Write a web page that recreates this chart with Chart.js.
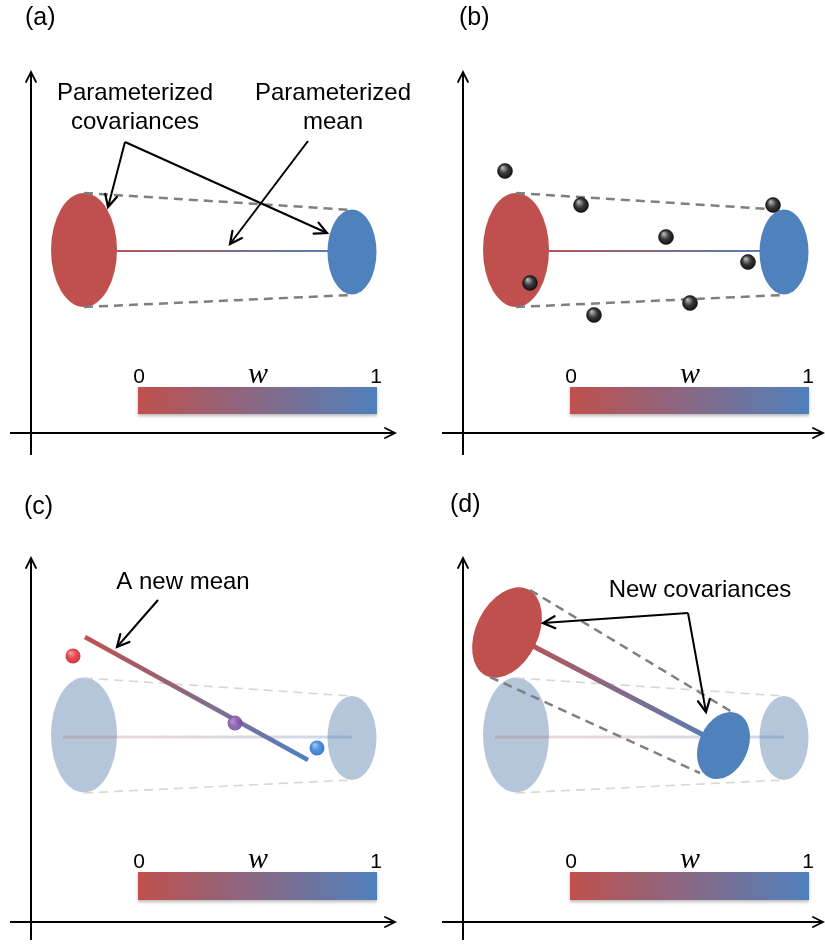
<!DOCTYPE html>
<html>
<head>
<meta charset="utf-8">
<script src="https://cdn.jsdelivr.net/npm/chart.js@4/dist/chart.umd.min.js"></script>
<style>
  html, body { margin: 0; padding: 0; background: #ffffff; }
  #wrap { position: relative; width: 825px; height: 945px; overflow: hidden; }
  #wrap canvas { position: absolute; left: 0; top: 0; }
</style>
</head>
<body>
<div id="wrap">
  <canvas id="pa" width="825" height="945"></canvas>
  <canvas id="pb" width="825" height="945"></canvas>
  <canvas id="pc" width="825" height="945"></canvas>
  <canvas id="pd" width="825" height="945"></canvas>
</div>
<script>
// ---------------------------------------------------------------------------
// Diagram values, in units where the two axes cross at (0, 0) and y points up.
// ---------------------------------------------------------------------------
const panelLabels = ['(a)', '(b)', '(c)', '(d)'];
const panelLabelPos = [[-6, 408], [-4, 408], [-7, 408], [-13, 410]];

// Axis extents: x axis runs along y = 0, y axis along x = 0
const xAxisExtent = [[-21, 364], [-21, 360], [-21, 364], [-21, 360]];
const yAxisExtent = [[-22, 361], [-22, 361], [-18, 364], [-18, 364]];

// Colour bar for the interpolation weight w in [0, 1]
const colorbarSpan = [107, 346];
const colorbarRows = [[19, 46], [19, 46], [22, 50], [22, 50]];
const colorbarTickValues = ['0', '1'];
const colorbarTickY = [50, 50, 54, 54];
const colorbarSymbol = 'w';

// Gaussian components: [cx, cy, rx, ry, angleDeg]
const redCov = [53, 183, 33, 57, 0];
const blueCov = [321, 181, 24.5, 42.5, 0];
const fadedRedCov = [53, 187, 33, 57.5, 0];
const fadedBlueCov = [321, 184, 24.5, 42, 0];
const newRedCov = [44, 289.5, 48, 31, 64];
const newBlueCov = [260.5, 176.5, 35, 24.5, 66];

// Mean paths and covariance envelopes: [[x0, y0], [x1, y1]]
const meanLine = [[53, 182], [321, 182]];
const envelopeTop = [[53, 240], [321, 223]];
const envelopeBottom = [[53, 126], [321, 138]];
const fadedMeanLine = [[32, 185], [321, 185]];
const fadedEnvelopeTop = [[53, 244], [321, 226]];
const fadedEnvelopeBottom = [[53, 129], [321, 142]];
const newMeanLine = [[54, 285], [277, 162]];
const newCovMeanLine = [[44, 289.5], [260.5, 176.5]];
const newEnvelopeTop = [[67, 332], [274, 207]];
const newEnvelopeBottom = [[27, 245], [237, 149]];

// Observed samples in (b)
const samples = [[42, 262], [118, 228], [310, 228], [203, 196], [285, 171], [67, 150], [227, 130], [131, 118]];

// Samples along the new mean in (c): w = 0, 0.5, 1
const newMeanSamples = [[42, 266], [204, 199], [286, 174]];

// Callout texts: [text, x, baselineY] and arrows: [[fromX, fromY], [tipX, tipY]]
const calloutTextA = [['Parameterized', 104, 333], ['covariances', 104, 304], ['Parameterized', 302, 333], ['mean', 302, 304]];
const calloutArrowsA = [[[94, 291], [77, 226]], [[94, 291], [296, 200]], [[277, 292], [199, 189]]];
const calloutTextC = [['A new mean', 152, 333]];
const calloutArrowsC = [[[127, 322], [86, 275]]];
const calloutTextD = [['New covariances', 237, 325]];
const calloutArrowsD = [[[225, 309], [80, 299]], [[225, 309], [243, 210]]];

// ---------------------------------------------------------------------------
// Styling and layout
// ---------------------------------------------------------------------------
const RED = '#c0504d';
const BLUE = '#4f81bd';
const FADED = '#b6c6da';
const SANS = '"Liberation Sans", Arial, Helvetica, sans-serif';
const W = 825, H = 945;
// pixel where the axes cross in each panel
const origins = [[31, 433], [463, 433], [31, 922], [463, 922]];

function toPx(chart, x, y) {
  return [chart.scales.x.getPixelForValue(x), chart.scales.y.getPixelForValue(y)];
}

function pts(list) {
  return list.map(([x, y]) => ({ x, y }));
}

function gradientStroke(points, from, to) {
  return (c) => {
    const chart = c.chart;
    if (!chart.chartArea || !chart.scales.x) return from;
    const [x1, y1] = toPx(chart, points[0][0], points[0][1]);
    const [x2, y2] = toPx(chart, points[1][0], points[1][1]);
    const g = chart.ctx.createLinearGradient(x1, y1, x2, y2);
    g.addColorStop(0, from);
    g.addColorStop(1, to);
    return g;
  };
}

function lineDS(points, style) {
  return Object.assign({
    data: pts(points),
    showLine: true,
    pointRadius: 0,
    pointHoverRadius: 0,
    borderWidth: 2,
    borderColor: '#000',
    tension: 0,
    clip: false
  }, style);
}

function axesDS(i) {
  return [
    lineDS([[xAxisExtent[i][0], 0], [xAxisExtent[i][1], 0]], { borderWidth: 2, arrowHead: { len: 10, half: 5, width: 1.8 } }),
    lineDS([[0, yAxisExtent[i][0]], [0, yAxisExtent[i][1]]], { borderWidth: 2, arrowHead: { len: 10, half: 5, width: 1.8 } })
  ];
}

function calloutDS(arrows) {
  return arrows.map(a => lineDS(a, { borderWidth: 2, arrowHead: { len: 12, half: 6, width: 2.2 } }));
}

function sphereFill(bases, lights, darks) {
  return (c) => {
    const i = c.dataIndex || 0;
    const base = bases[i % bases.length];
    if (c.type !== 'data' || !c.chart.chartArea) return base;
    const [x, y] = toPx(c.chart, c.raw.x, c.raw.y);
    const g = c.chart.ctx.createRadialGradient(x - 2.5, y - 3.5, 0.5, x, y, 8);
    g.addColorStop(0, lights[i % lights.length]);
    g.addColorStop(0.5, base);
    g.addColorStop(1, darks[i % darks.length]);
    return g;
  };
}

function drawEllipse(chart, e, color) {
  const ctx = chart.ctx;
  const [cx, cy] = toPx(chart, e[0], e[1]);
  const rx = Math.abs(chart.scales.x.getPixelForValue(e[2]) - chart.scales.x.getPixelForValue(0));
  const ry = Math.abs(chart.scales.y.getPixelForValue(e[3]) - chart.scales.y.getPixelForValue(0));
  ctx.save();
  ctx.beginPath();
  ctx.ellipse(cx, cy, rx, ry, -(e[4] || 0) * Math.PI / 180, 0, Math.PI * 2);
  ctx.fillStyle = color;
  ctx.fill();
  ctx.restore();
}

const diagramPlugin = {
  id: 'diagram',
  beforeDatasetsDraw(chart, args, opts) {
    (opts.under || []).forEach(item => drawEllipse(chart, item.e, item.color));
  },
  afterDatasetDraw(chart, args, opts) {
    const ds = chart.data.datasets[args.index];
    if (ds.ellipsesAbove) {
      (opts.over || []).forEach(item => drawEllipse(chart, item.e, item.color));
    }
  },
  afterDatasetsDraw(chart, args, opts) {
    const ctx = chart.ctx;
    // arrowheads at the last point of flagged line datasets
    chart.data.datasets.forEach((ds, i) => {
      if (!ds.arrowHead) return;
      const el = chart.getDatasetMeta(i).data;
      const n = el.length;
      const tail = el[n - 2], tip = el[n - 1];
      const ang = Math.atan2(tip.y - tail.y, tip.x - tail.x);
      const h = ds.arrowHead;
      const phi = Math.atan2(h.half, h.len);
      const L = Math.hypot(h.half, h.len);
      ctx.save();
      ctx.strokeStyle = ds.borderColor || '#000';
      ctx.lineWidth = h.width;
      ctx.lineCap = 'round';
      ctx.lineJoin = 'miter';
      ctx.beginPath();
      ctx.moveTo(tip.x - L * Math.cos(ang - phi), tip.y - L * Math.sin(ang - phi));
      ctx.lineTo(tip.x, tip.y);
      ctx.lineTo(tip.x - L * Math.cos(ang + phi), tip.y - L * Math.sin(ang + phi));
      ctx.stroke();
      ctx.restore();
    });

    // colour bar for w
    const cb = opts.colorbar;
    if (cb) {
      const [x0, yTop] = toPx(chart, colorbarSpan[0], cb.rows[1]);
      const [x1, yBot] = toPx(chart, colorbarSpan[1], cb.rows[0]);
      ctx.save();
      const g = ctx.createLinearGradient(x0, 0, x1, 0);
      g.addColorStop(0, RED);
      g.addColorStop(1, BLUE);
      ctx.shadowColor = 'rgba(0,0,0,0.28)';
      ctx.shadowBlur = 3;
      ctx.shadowOffsetY = 2;
      ctx.fillStyle = g;
      ctx.fillRect(x0, yTop, x1 - x0, yBot - yTop);
      ctx.restore();

      ctx.save();
      ctx.fillStyle = '#000';
      ctx.textBaseline = 'alphabetic';
      ctx.textAlign = 'center';
      ctx.font = '21px ' + SANS;
      const [t0x, ty] = toPx(chart, colorbarSpan[0] + 1, cb.tickY);
      const [t1x] = toPx(chart, colorbarSpan[1] - 1, cb.tickY);
      ctx.fillText(colorbarTickValues[0], t0x, ty);
      ctx.fillText(colorbarTickValues[1], t1x, ty);
      ctx.font = 'italic 30px "Liberation Serif", "DejaVu Serif", serif';
      const [wx] = toPx(chart, (colorbarSpan[0] + colorbarSpan[1]) / 2 + 0.5, cb.tickY);
      ctx.fillText(colorbarSymbol, wx, ty);
      ctx.restore();
    }

    // texts
    (opts.texts || []).forEach(t => {
      const [x, y] = toPx(chart, t[1], t[2]);
      ctx.save();
      ctx.fillStyle = '#000';
      ctx.font = t[4] || ('24px ' + SANS);
      ctx.textAlign = t[3] || 'center';
      ctx.textBaseline = 'alphabetic';
      ctx.fillText(t[0], x, y);
      ctx.restore();
    });
  }
};

function makePanel(canvasId, i, datasets, diagram) {
  const [ox, oy] = origins[i];
  diagram.colorbar = { rows: colorbarRows[i], tickY: colorbarTickY[i] };
  diagram.texts = [[panelLabels[i], panelLabelPos[i][0], panelLabelPos[i][1], 'left', '25px ' + SANS]].concat(diagram.texts || []);
  return new Chart(document.getElementById(canvasId), {
    type: 'scatter',
    data: { datasets },
    options: {
      responsive: false,
      maintainAspectRatio: false,
      animation: false,
      devicePixelRatio: 1,
      events: [],
      layout: { padding: 0, autoPadding: false },
      scales: {
        x: { type: 'linear', display: false, min: -ox, max: W - ox },
        y: { type: 'linear', display: false, min: -(H - oy), max: oy }
      },
      plugins: {
        legend: { display: false },
        tooltip: { enabled: false },
        diagram
      }
    },
    plugins: [diagramPlugin]
  });
}

const dashStyle = { borderColor: '#7f7f7f', borderWidth: 2.5, borderDash: [9, 6] };
const fadedDashStyle = { borderColor: '#d6d6d6', borderWidth: 1.6, borderDash: [9, 6] };

// (a) parameterised mean and covariances
makePanel('pa', 0, [
  ...calloutDS(calloutArrowsA),
  ...axesDS(0),
  lineDS(envelopeTop, dashStyle),
  lineDS(envelopeBottom, dashStyle),
  lineDS(meanLine, { borderWidth: 2, borderColor: gradientStroke(meanLine, RED, BLUE), ellipsesAbove: true })
], {
  over: [{ e: redCov, color: RED }, { e: blueCov, color: BLUE }],
  texts: calloutTextA
});

// (b) observed samples around the model
makePanel('pb', 1, [
  {
    data: pts(samples),
    pointRadius: 7.5,
    pointHoverRadius: 7.5,
    pointBorderWidth: 0.6,
    pointBorderColor: '#1a1a1a',
    pointBackgroundColor: sphereFill(['#3c3c3c'], ['#b8b8b8'], ['#0d0d0d']),
    clip: false
  },
  ...axesDS(1),
  lineDS(envelopeTop, dashStyle),
  lineDS(envelopeBottom, dashStyle),
  lineDS(meanLine, { borderWidth: 2, borderColor: gradientStroke(meanLine, RED, BLUE), ellipsesAbove: true })
], {
  over: [{ e: redCov, color: RED }, { e: blueCov, color: BLUE }]
});

// (c) a new mean path
makePanel('pc', 2, [
  ...calloutDS(calloutArrowsC),
  {
    data: pts(newMeanSamples),
    pointRadius: 7.5,
    pointHoverRadius: 7.5,
    pointBorderWidth: 0,
    pointBackgroundColor: sphereFill(
      ['rgba(226,72,80,0.97)', 'rgba(140,92,176,0.88)', 'rgba(74,142,224,0.97)'],
      ['rgba(246,150,150,0.97)', 'rgba(180,140,210,0.88)', 'rgba(150,195,245,0.97)'],
      ['rgba(200,50,60,0.97)', 'rgba(115,70,155,0.88)', 'rgba(50,115,200,0.97)']),
    clip: false
  },
  lineDS(newMeanLine, { borderWidth: 4.5, borderColor: gradientStroke(newMeanLine, RED, BLUE) }),
  ...axesDS(2),
  lineDS(fadedMeanLine, { borderWidth: 3, borderColor: gradientStroke(fadedMeanLine, 'rgba(192,80,77,0.22)', 'rgba(79,129,189,0.30)') }),
  lineDS(fadedEnvelopeTop, fadedDashStyle),
  lineDS(fadedEnvelopeBottom, fadedDashStyle)
], {
  under: [{ e: fadedRedCov, color: FADED }, { e: fadedBlueCov, color: FADED }],
  texts: calloutTextC
});

// (d) new covariances along the new mean
makePanel('pd', 3, [
  ...calloutDS(calloutArrowsD),
  ...axesDS(3),
  lineDS(newEnvelopeTop, dashStyle),
  lineDS(newEnvelopeBottom, dashStyle),
  lineDS(newCovMeanLine, { borderWidth: 5, borderColor: gradientStroke(newCovMeanLine, RED, BLUE), ellipsesAbove: true }),
  lineDS(fadedMeanLine, { borderWidth: 3, borderColor: gradientStroke(fadedMeanLine, 'rgba(192,80,77,0.22)', 'rgba(79,129,189,0.30)') }),
  lineDS(fadedEnvelopeTop, fadedDashStyle),
  lineDS(fadedEnvelopeBottom, fadedDashStyle)
], {
  under: [{ e: fadedRedCov, color: FADED }, { e: fadedBlueCov, color: FADED }],
  over: [{ e: newRedCov, color: RED }, { e: newBlueCov, color: BLUE }],
  texts: calloutTextD
});
</script>
</body>
</html>
